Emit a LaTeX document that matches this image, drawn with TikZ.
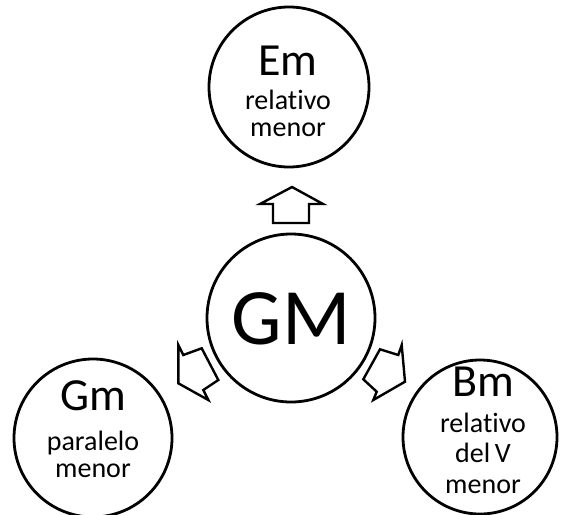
\documentclass[tikz,border=0pt]{standalone}
\usepackage{fontspec}
\setmainfont{Carlito}[Ligatures={NoCommon,NoRequired,NoContextual}]
\begin{document}
\begin{tikzpicture}[x=1pt,y=-1pt,
  ring/.style={draw=black,line width=2.8pt,circle,inner sep=0pt},
  big/.style={font=\fontsize{46}{48}\selectfont,anchor=base,inner sep=0pt},
  huge/.style={font=\fontsize{80}{82}\selectfont,anchor=base,inner sep=0pt},
  small/.style={font=\fontsize{28}{30}\selectfont,anchor=base,inner sep=0pt},
  blockarrow/.style={draw=black,line width=2.4pt,fill=white,line join=miter}]
\useasboundingbox (0,0) rectangle (561,514);
% circles
\node[ring,minimum size=160pt] (em) at (289,87) {};
\node[ring,minimum size=168pt] (gmaj) at (291,318) {};
\node[ring,minimum size=158pt] (gmin) at (93,438) {};
\node[ring,minimum size=154pt] (bm) at (480,437) {};
% texts
\node[big] (emt) at (288,75) {Em};
\node[small] (emt1) at (288,109) {rela{}tivo};
\node[small] (emt2) at (288,136) {menor};
\node[huge] (gmajt) at (291,344) {GM};
\node[big] (gmint) at (93,410) {Gm};
\node[small] (gmint1) at (93,450) {paralelo};
\node[small] (gmint2) at (93,477) {menor};
\node[big] (bmt) at (483,396) {Bm};
\node[small] (bmt1) at (483,432) {rela{}tivo};
\node[small] (bmt2) at (483,462) {del\,V};
\node[small] (bmt3) at (483,493) {menor};
% block arrows
\draw[blockarrow] (292,187) -- (323,204) -- (309,204) -- (309,223) -- (273,223) -- (273,204) -- (260,204) -- cycle;
\draw[blockarrow] (178.3,383.3) -- (208.3,400) -- (203.3,390) -- (218.3,380) -- (201.7,348.3) -- (183.3,355) -- (178.3,345) -- cycle;
\draw[blockarrow] (405,381.7) -- (373.3,400) -- (376.7,391.7) -- (363.3,379.3) -- (380,349.3) -- (398.3,355) -- (401.7,345) -- cycle;
\end{tikzpicture}
\end{document}
